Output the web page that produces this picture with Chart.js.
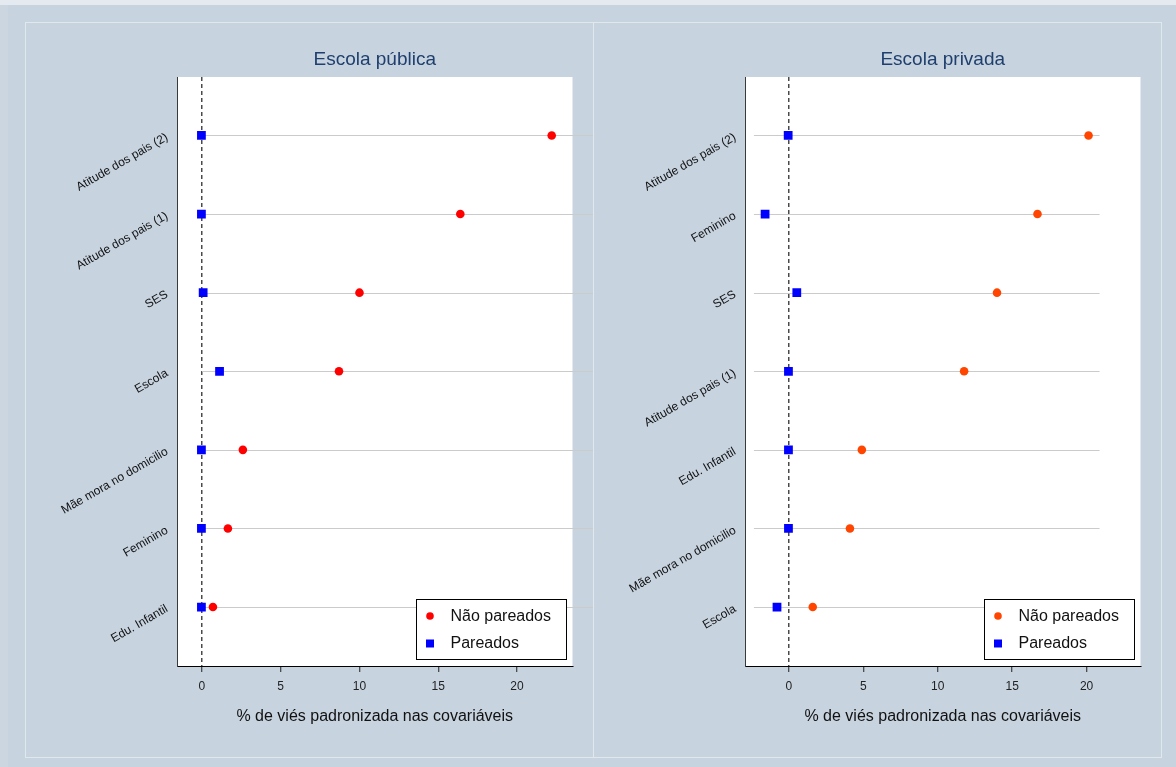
<!DOCTYPE html>
<html>
<head>
<meta charset="utf-8">
<script src="https://cdn.jsdelivr.net/npm/chart.js@4/dist/chart.umd.min.js"></script>
<style>
  body { margin: 0; width: 1176px; height: 767px; background: #c7d3df; position: relative; overflow: hidden; }
  .topstrip { position: absolute; left: 0; top: 0; width: 1176px; height: 5px; background: #e4eaef; }
  .leftstrip { position: absolute; left: 0; top: 5px; width: 8px; height: 762px; background: #cbd6e0; }
  .panel { position: absolute; top: 22px; width: 567px; height: 734px; border: 1px solid #e0e8ee; }
  #p1 { left: 25px; }
  #p2 { left: 593px; }
  canvas { position: absolute; left: 0; top: 0; }
</style>
</head>
<body>
<div class="topstrip"></div>
<div class="leftstrip"></div>
<div class="panel" id="p1"><canvas id="chartPublica" width="567" height="734"></canvas></div>
<div class="panel" id="p2"><canvas id="chartPrivada" width="567" height="734"></canvas></div>
<script>
const FONT = '"Liberation Sans", Arial, sans-serif';
const xTicks = [0, 5, 10, 15, 20];
const legendLabels = ['Não pareados', 'Pareados'];

// Escola pública (top to bottom)
const catsPublica = ['Atitude dos pais (2)', 'Atitude dos pais (1)', 'SES', 'Escola',
  'Mãe mora no domicilio', 'Feminino', 'Edu. Infantil'];
const naoPareadosPublica = [22.2, 16.4, 10.0, 8.7, 2.6, 1.65, 0.7];
const pareadosPublica = [-0.03, -0.03, 0.08, 1.12, -0.03, -0.03, -0.03];

// Escola privada (top to bottom)
const catsPrivada = ['Atitude dos pais (2)', 'Feminino', 'SES', 'Atitude dos pais (1)',
  'Edu. Infantil', 'Mãe mora no domicilio', 'Escola'];
const naoPareadosPrivada = [20.13, 16.7, 13.98, 11.77, 4.9, 4.1, 1.6];
const pareadosPrivada = [-0.05, -1.6, 0.53, -0.03, -0.03, -0.03, -0.8];

function toPoints(values) {
  return values.map((v, i) => ({ x: v, y: i + 1 }));
}

// white plot region, row rules, panel title and boxed legend
const decoPlugin = {
  id: 'deco',
  beforeDraw(chart) {
    const { ctx, chartArea: a } = chart;
    ctx.save();
    ctx.fillStyle = '#ffffff';
    ctx.fillRect(a.left, a.top, a.right - a.left, a.bottom - a.top);
    ctx.restore();
  },
  beforeDatasetsDraw(chart, args, opts) {
    const { ctx, scales: { x, y } } = chart;
    ctx.save();
    ctx.strokeStyle = '#cbcbcb';
    ctx.lineWidth = 1;
    y.ticks.forEach(t => {
      const py = Math.round(y.getPixelForValue(t.value)) + 0.5;
      ctx.beginPath();
      ctx.moveTo(x.getPixelForValue(opts.ruleFrom), py);
      ctx.lineTo(x.getPixelForValue(opts.ruleTo), py);
      ctx.stroke();
    });
    ctx.restore();
  },
  afterDraw(chart, args, opts) {
    const { ctx, chartArea: a } = chart;
    ctx.save();
    // title
    ctx.font = '19px ' + FONT;
    ctx.fillStyle = '#1f3f6e';
    ctx.textAlign = 'center';
    ctx.textBaseline = 'middle';
    ctx.fillText(opts.title, (a.left + a.right) / 2, 37);

    // legend
    const w = 150, h = 60;
    const bx = Math.round(a.right - 7 - w) + 0.5;
    const by = Math.round(a.bottom - 7 - h) + 0.5;
    ctx.fillStyle = '#ffffff';
    ctx.fillRect(bx, by, w, h);
    ctx.strokeStyle = '#000000';
    ctx.lineWidth = 1;
    ctx.strokeRect(bx, by, w, h);
    ctx.font = '16px ' + FONT;
    ctx.textAlign = 'left';
    chart.data.datasets.forEach((ds, i) => {
      const cy = by + 16.5 + i * 27;
      ctx.fillStyle = ds.backgroundColor;
      if (ds.pointStyle === 'rect') {
        ctx.fillRect(bx + 9.5, cy - 3.5, 8, 8);
      } else {
        ctx.beginPath();
        ctx.arc(bx + 13.5, cy, 3.8, 0, Math.PI * 2);
        ctx.fill();
      }
      ctx.fillStyle = '#111111';
      ctx.fillText(ds.label, bx + 34, cy + 1);
    });
    ctx.restore();
  }
};

function makePanel(id, cats, nao, par, naoColor, xMin, xMax, title, ruleFrom, ruleTo) {
  return new Chart(document.getElementById(id), {
    type: 'scatter',
    data: {
      datasets: [
        {
          label: legendLabels[0],
          data: toPoints(nao),
          backgroundColor: naoColor,
          borderColor: naoColor,
          pointStyle: 'circle',
          pointRadius: 4.3,
          pointBorderWidth: 0,
          pointHoverRadius: 4.3
        },
        {
          label: legendLabels[1],
          data: toPoints(par),
          backgroundColor: '#0000ff',
          borderColor: '#0000ff',
          pointStyle: 'rect',
          pointRadius: 6.2,
          pointBorderWidth: 0,
          pointHoverRadius: 6.2
        }
      ]
    },
    options: {
      responsive: false,
      animation: false,
      layout: { padding: { top: 54, right: 20.5, left: 0, bottom: 31 } },
      plugins: {
        legend: { display: false },
        tooltip: { enabled: false },
        deco: { title: title, ruleFrom: ruleFrom, ruleTo: ruleTo }
      },
      scales: {
        x: {
          type: 'linear',
          min: xMin,
          max: xMax,
          afterBuildTicks: s => { s.ticks = xTicks.map(v => ({ value: v })); },
          afterFit: s => { s.height = 60; },
          grid: {
            color: c => (c.tick && c.tick.value === 0 ? '#4a4a4a' : 'rgba(0,0,0,0)'),
            lineWidth: 1.5,
            tickColor: '#222222',
            tickWidth: 1,
            tickLength: 6
          },
          border: { color: '#000000', width: 1, dash: [4, 3] },
          ticks: { color: '#222222', padding: 7, font: { family: FONT, size: 12 } },
          title: {
            display: true,
            text: '% de viés padronizada nas covariáveis',
            color: '#111111',
            font: { family: FONT, size: 16 },
            padding: { top: 4, bottom: 0 }
          }
        },
        y: {
          type: 'linear',
          reverse: true,
          min: 0.256,
          max: 7.75,
          afterBuildTicks: s => { s.ticks = cats.map((c, i) => ({ value: i + 1 })); },
          afterFit: s => { s.width = 151; },
          grid: { display: false },
          border: { color: '#3a3a3a', width: 1 },
          ticks: {
            color: '#111111',
            padding: 2,
            labelOffset: 1,
            minRotation: 30,
            maxRotation: 30,
            font: { family: FONT, size: 12 },
            callback: v => cats[v - 1]
          }
        }
      }
    },
    plugins: [decoPlugin]
  });
}

makePanel('chartPublica', catsPublica, naoPareadosPublica, pareadosPublica, '#ff0000',
  -1.58, 23.52, 'Escola pública', 0, 24.9);
makePanel('chartPrivada', catsPrivada, naoPareadosPrivada, pareadosPrivada, '#ff4500',
  -2.95, 23.62, 'Escola privada', -2.35, 20.87);
</script>
</body>
</html>
